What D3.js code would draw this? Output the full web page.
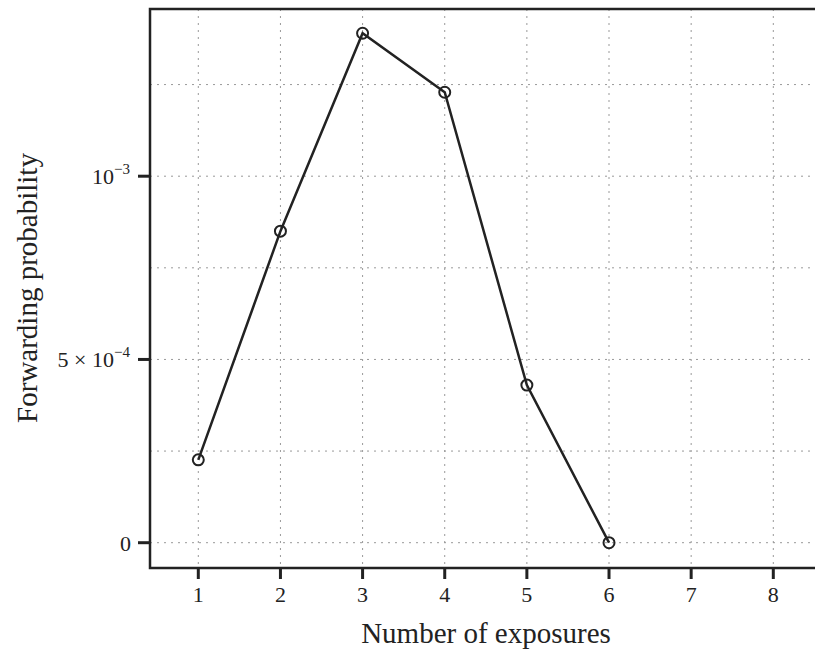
<!DOCTYPE html>
<html>
<head>
<meta charset="utf-8">
<script src="https://cdn.jsdelivr.net/npm/d3@7"></script>
<style>
  body { margin: 0; background: #fff; }
  svg { display: block; }
  text { font-family: "Liberation Serif", "DejaVu Serif", serif; fill: #222; }
</style>
</head>
<body>
<svg id="chart" width="815" height="652"></svg>
<script>
// ---- data ----
var exposures = [1, 2, 3, 4, 5, 6];
var probability = [0.000226, 0.000850, 0.001390, 0.001229, 0.000430, 0.0];
var xTicks = [1, 2, 3, 4, 5, 6, 7, 8];
var yGrid = [0, 0.00025, 0.0005, 0.00075, 0.001, 0.00125];
var yLabelled = [
  { v: 0, base: "0", sup: "" },
  { v: 0.0005, base: "5 \u00d7 10", sup: "\u22124" },
  { v: 0.001, base: "10", sup: "\u22123" }
];

var svg = d3.select("#chart");
// plot box (note: "top" is a reserved window prop, so prefix these)
var pLeft = 150, pRight = 815, pTop = 9, pBottom = 568;

// scales pinned so ticks land where the reference puts them
var x = d3.scaleLinear().domain([1, 8]).range([198.3, 773.3]);
var y = d3.scaleLinear().domain([0, 0.001]).range([542.7, 176.2]);

var ink = "#222";

// grid
var grid = svg.append("g");
grid.selectAll(".vg").data(xTicks).enter().append("line")
  .attr("x1", function(d) { return x(d); }).attr("x2", function(d) { return x(d); })
  .attr("y1", pTop).attr("y2", pBottom)
  .attr("stroke", "#999").attr("stroke-width", 1).attr("stroke-dasharray", "2,5");
grid.selectAll(".hg").data(yGrid).enter().append("line")
  .attr("x1", pLeft).attr("x2", pRight)
  .attr("y1", function(d) { return y(d); }).attr("y2", function(d) { return y(d); })
  .attr("stroke", "#999").attr("stroke-width", 1).attr("stroke-dasharray", "2,5");

// frame: left, top, bottom
svg.append("path")
  .attr("d", "M" + pRight + "," + pTop + "H" + pLeft + "V" + pBottom + "H" + pRight)
  .attr("fill", "none").attr("stroke", ink).attr("stroke-width", 2.5);

// x ticks + labels
svg.selectAll(".xt").data(xTicks).enter().append("line")
  .attr("x1", function(d) { return x(d); }).attr("x2", function(d) { return x(d); })
  .attr("y1", pBottom).attr("y2", pBottom + 11)
  .attr("stroke", ink).attr("stroke-width", 3);
svg.selectAll(".xl").data(xTicks).enter().append("text")
  .attr("x", function(d) { return x(d); }).attr("y", 602)
  .attr("text-anchor", "middle").attr("font-size", 22)
  .text(function(d) { return d; });

// y ticks + labels
svg.selectAll(".yt").data(yLabelled).enter().append("line")
  .attr("x1", pLeft - 12).attr("x2", pLeft)
  .attr("y1", function(d) { return y(d.v); }).attr("y2", function(d) { return y(d.v); })
  .attr("stroke", ink).attr("stroke-width", 3);
var yl = svg.selectAll(".yl").data(yLabelled).enter().append("text")
  .attr("x", function(d) { return d.sup ? 130 : 131; })
  .attr("y", function(d) { return y(d.v) + 8; })
  .attr("text-anchor", "end").attr("font-size", 22);
yl.append("tspan").text(function(d) { return d.base; });
yl.append("tspan").attr("dy", -10).attr("font-size", 15).text(function(d) { return d.sup; });

// axis titles
svg.append("text").attr("x", 486).attr("y", 643)
  .attr("text-anchor", "middle").attr("font-size", 29).text("Number of exposures");
svg.append("text").attr("transform", "translate(37,288) rotate(-90)")
  .attr("text-anchor", "middle").attr("font-size", 29).text("Forwarding probability");

// series
var pts = exposures.map(function(e, i) { return [e, probability[i]]; });
svg.append("path").datum(pts)
  .attr("d", d3.line().x(function(d) { return x(d[0]); }).y(function(d) { return y(d[1]); }))
  .attr("fill", "none").attr("stroke", ink).attr("stroke-width", 2.5);
svg.selectAll(".pt").data(pts).enter().append("circle")
  .attr("cx", function(d) { return x(d[0]); }).attr("cy", function(d) { return y(d[1]); })
  .attr("r", 5.5).attr("fill", "none").attr("stroke", ink).attr("stroke-width", 2);
</script>
</body>
</html>
